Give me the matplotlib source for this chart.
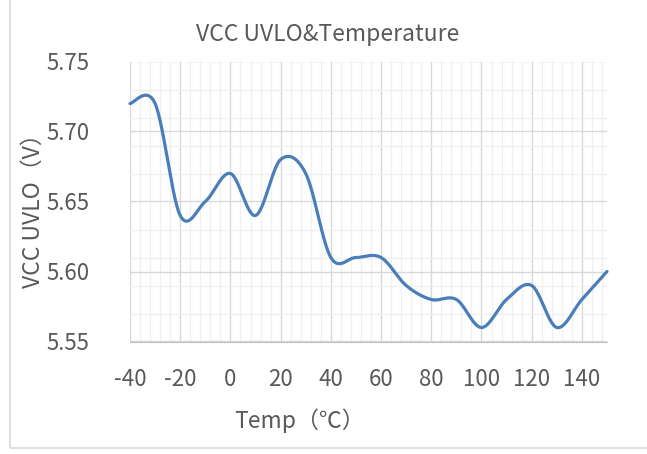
import numpy as np
import matplotlib
matplotlib.use("Agg")
import matplotlib.pyplot as plt
from matplotlib.patches import Rectangle

plt.rcParams['font.family'] = ['Noto Sans CJK SC', 'DejaVu Sans']
plt.rcParams['axes.unicode_minus'] = False

temp = [-40, -30, -20, -10, 0, 10, 20, 30, 40, 50, 60, 70, 80, 90, 100, 110, 120, 130, 140, 150]
uvlo = [5.72, 5.72, 5.64, 5.65, 5.67, 5.64, 5.68, 5.67, 5.61, 5.61, 5.61, 5.59, 5.58, 5.58,
        5.56, 5.58, 5.59, 5.56, 5.58, 5.60]

title = "VCC UVLO&Temperature"
xlabel = "Temp（℃）"
ylabel = "VCC UVLO（V）"
xticks = np.arange(-40, 141, 20)
yticks = [5.55, 5.60, 5.65, 5.70, 5.75]


def smooth(xs, ys, n=30):
    # excel-like smoothed line: cubic bezier with catmull-rom control points
    p = np.column_stack([xs, ys]).astype(float)
    pad = np.vstack([p[0], p, p[-1]])
    t = np.linspace(0, 1, n)[:, None]
    out = []
    for i in range(len(p) - 1):
        p0, p3 = pad[i + 1], pad[i + 2]
        c1 = p0 + (pad[i + 2] - pad[i]) / 6
        c2 = p3 - (pad[i + 3] - pad[i + 1]) / 6
        seg = (1 - t) ** 3 * p0 + 3 * (1 - t) ** 2 * t * c1 + 3 * (1 - t) * t ** 2 * c2 + t ** 3 * p3
        out.append(seg if i == 0 else seg[1:])
    out = np.vstack(out)
    return out[:, 0], out[:, 1]


fig = plt.figure(figsize=(6.47, 4.54), dpi=100)
ax = fig.add_axes([130 / 647, 1 - 341.5 / 454, 477 / 647, 280 / 454])

grey = '#595959'
ax.set_xlim(-40, 150)
ax.set_ylim(5.55, 5.75)
ax.set_xticks(xticks)
ax.set_yticks(yticks)
ax.set_yticklabels([f"{v:.2f}" for v in yticks])
ax.set_xticks(np.arange(-40, 150, 4), minor=True)
ax.set_yticks(np.arange(5.55, 5.751, 0.02), minor=True)
ax.grid(which='minor', color='#f0f0f0', lw=1, zorder=0)
ax.grid(which='major', color='#d9d9d9', lw=1, zorder=1)
ax.set_axisbelow(True)
for s in ['top', 'right', 'left']:
    ax.spines[s].set_visible(False)
ax.spines['bottom'].set_color('#bfbfbf')
ax.tick_params(which='both', length=0, colors=grey, labelsize=16)
ax.tick_params(axis='x', pad=19)
ax.tick_params(axis='y', pad=29)

sx, sy = smooth(temp, uvlo)
ax.plot(sx, sy, color='#4a7ebb', lw=2.3, solid_capstyle='round', clip_on=False, zorder=3)

fig.text(328 / 647, 1 - 35 / 454, title, ha='center', va='center', fontsize=16.5, color=grey)
fig.text(300 / 647, 1 - 421 / 454, xlabel, ha='center', va='center', fontsize=16.5, color=grey)
fig.text(33 / 647, 1 - 205 / 454, ylabel, ha='center', va='center', rotation=90,
         fontsize=16.5, color=grey)

fig.patches.append(Rectangle((9.5 / 647, 1 - 448 / 454), 1, 448 / 454 + 0.01,
                             transform=fig.transFigure, fill=False, ec='#d9d9d9', lw=1.2))

fig.savefig('out.png', dpi=100)
